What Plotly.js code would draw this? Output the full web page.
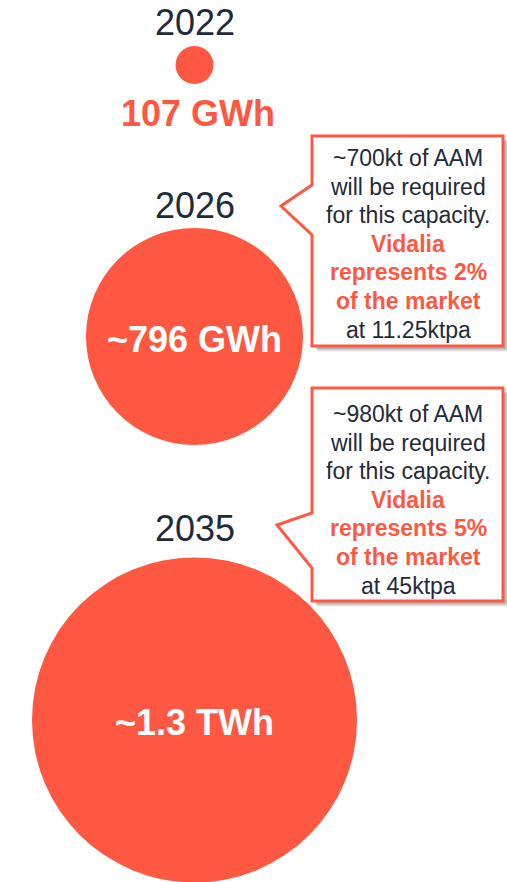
<!DOCTYPE html>
<html>
<head>
<meta charset="utf-8">
<script src="https://cdn.plot.ly/plotly-3.0.1.min.js"></script>
<style>html,body{margin:0;padding:0;background:#fff;}#chart{width:507px;height:882px;}</style>
</head>
<body>
<div id="chart"></div>
<script>
// ---- data ----
const years = ['2022', '2026', '2035'];
const capacityGWh = [107, 796, 1300];
const capacityLabels = ['107 GWh', '~796 GWh', '~1.3 TWh'];
const aamRequiredKt = ['~700kt', '~980kt'];
const vidaliaSharePct = ['2%', '5%'];
const vidaliaKtpa = ['11.25ktpa', '45ktpa'];

// ---- layout / style (pixel space) ----
const RED = '#FF5842';
const DARK = '#1F2B3A';
const FONT = '"Liberation Sans", Arial, sans-serif';
const cx = 194.5;
const circleY = [65, 336.5, 720];
const circleDiam = [38, 217, 325];
const yearY = [22, 205, 528];
const valueY = [113, 339, 722];
const valueInside = [false, true, true];

const boxes = [
  {x0: 312, x1: 503, y0: 136, y1: 346, pa: 185, pb: 235, tipX: 281, tipY: 206, firstLineY: 158},
  {x0: 312, x1: 503, y0: 388, y1: 601, pa: 513, pb: 568, tipX: 277, tipY: 525, firstLineY: 414}
];
const LINE_STEP = 28.6;

function calloutPath(b, dx, dy) {
  const p = (x, y) => (x + dx) + ',' + (y + dy);
  return 'M' + p(b.x0, b.y0) + ' L' + p(b.x1, b.y0) + ' L' + p(b.x1, b.y1) + ' L' + p(b.x0, b.y1) +
         ' L' + p(b.x0, b.pb) + ' L' + p(b.tipX, b.tipY) + ' L' + p(b.x0, b.pa) + ' Z';
}

const shapes = [];
boxes.forEach(b => {
  [[6, 0.05], [5, 0.07], [4, 0.09], [3, 0.1]].forEach(([o, a]) => {
    shapes.push({type: 'path', path: calloutPath(b, o, o), xref: 'x', yref: 'y',
      fillcolor: 'rgba(0,0,0,' + a + ')', line: {width: 0}, layer: 'above'});
  });
  shapes.push({type: 'path', path: calloutPath(b, 0, 0), xref: 'x', yref: 'y',
    fillcolor: '#ffffff', line: {color: RED, width: 3}, layer: 'above'});
});

const trace = {
  type: 'scatter', mode: 'markers',
  x: years.map(() => cx), y: circleY,
  marker: {size: circleDiam, sizemode: 'diameter', color: RED, line: {width: 0}, opacity: 1},
  customdata: capacityGWh,
  hoverinfo: 'skip', cliponaxis: false, showlegend: false
};

const annotations = [];
years.forEach((yr, i) => {
  annotations.push({x: cx, y: yearY[i], xref: 'x', yref: 'y', text: yr, showarrow: false,
    font: {family: FONT, size: 36, color: DARK}, xanchor: 'center', yanchor: 'middle'});
  annotations.push({x: valueInside[i] ? cx : cx + 3, y: valueY[i], xref: 'x', yref: 'y',
    text: '<b>' + capacityLabels[i] + '</b>', showarrow: false,
    font: {family: FONT, size: 36, color: valueInside[i] ? '#ffffff' : RED},
    xanchor: 'center', yanchor: 'middle'});
});

boxes.forEach((b, i) => {
  const lines = [
    [aamRequiredKt[i] + ' of AAM', false],
    ['will be required', false],
    ['for this capacity.', false],
    ['Vidalia', true],
    ['represents ' + vidaliaSharePct[i], true],
    ['of the market', true],
    ['at ' + vidaliaKtpa[i], false]
  ];
  lines.forEach(([t, hl], k) => {
    annotations.push({x: (b.x0 + b.x1) / 2 + 0.5, y: b.firstLineY + k * LINE_STEP, xref: 'x', yref: 'y',
      text: hl ? '<b>' + t + '</b>' : t,
      showarrow: false, align: 'center', xanchor: 'center', yanchor: 'middle',
      font: {family: FONT, size: 23, color: hl ? RED : DARK}});
  });
});

const layout = {
  width: 507, height: 882,
  margin: {l: 0, r: 0, t: 0, b: 0, pad: 0},
  paper_bgcolor: '#ffffff', plot_bgcolor: '#ffffff',
  xaxis: {range: [0, 507], visible: false, fixedrange: true},
  yaxis: {range: [882, 0], visible: false, fixedrange: true},
  shapes: shapes, annotations: annotations, showlegend: false
};

Plotly.newPlot('chart', [trace], layout, {displayModeBar: false, staticPlot: true});
</script>
</body>
</html>
